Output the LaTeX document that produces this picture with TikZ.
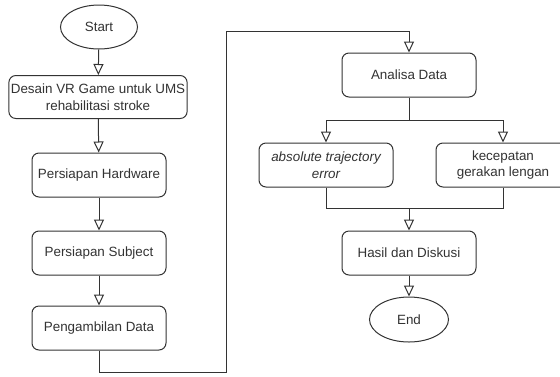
\documentclass[tikz,border=0pt]{standalone}
\usepackage{fontspec}
\setmainfont{Liberation Sans}
\usetikzlibrary{arrows.meta,shapes.geometric}
\definecolor{ink}{HTML}{333333}
\tikzset{
  proc/.style={draw=ink, line width=1pt, rounded corners=7pt, fill=white,
    minimum width=134pt, minimum height=44pt, inner sep=2pt, align=center,
    text=ink, font=\fontsize{13.4}{16.5}\selectfont},
  term/.style={draw=ink, line width=1pt, ellipse, fill=white, inner sep=0pt,
    text=ink, font=\fontsize{13.4}{16.5}\selectfont},
  link/.style={draw=ink, line width=1pt},
  flow/.style={link, -{Triangle[width=10pt, length=11pt, fill=white, line width=1pt]}}
}
\begin{document}
\begin{tikzpicture}[x=1pt, y=-1pt]
\useasboundingbox (0,0) rectangle (560,376);
\clip (0,0) rectangle (560,376);
\fill[white] (0,0) rectangle (560,376);

% left column
\node[term, minimum width=77pt, minimum height=44pt] (start) at (99,27) {Start};
\node[proc, minimum width=174pt, minimum height=43pt] (b1) at (98,97) {Desain VR Game untuk UMS\\rehabilitasi stroke};
\node[proc] (b2) at (99,175) {Persiapan Hardware};
\node[proc] (b3) at (99,253) {Persiapan Subject};
\node[proc] (b4) at (99,328) {Pengambilan Data};

% right column
\node[proc] (ana) at (409,75) {Analisa Data};
\node[proc] (ate) at (326,165) {\itshape absolute trajectory\\\itshape error};
\node[proc] (kec) at (503,165) {kecepatan\\gerakan lengan};
\node[proc] (hasil) at (409,253) {Hasil dan Diskusi};
\node[term, minimum width=79pt, minimum height=45pt] (end) at (409,319.5) {End};

% bends of the long connector
\coordinate (c1) at (99,372);
\coordinate (c2) at (226,372);
\coordinate (c3) at (226,31);
\coordinate (c4) at (409,31);
\coordinate (split) at (409,120);
\coordinate (merge) at (409,208);

\draw[flow] (start) -- (b1);
\draw[flow] (b1) -- (b2);
\draw[flow] (b2) -- (b3);
\draw[flow] (b3) -- (b4);
\draw[flow] (b4.south) -- (c1) -- (c2) -- (c3) -- (c4) -- (ana.north);

\draw[link] (ana.south) -- (split);
\draw[flow] (split) -| (ate.north);
\draw[flow] (split) -| (kec.north);

\draw[link] (ate.south) |- (merge);
\draw[link] (kec.south) |- (merge);
\draw[flow] (merge) -- (hasil.north);
\draw[flow] (hasil) -- (end);
\end{tikzpicture}
\end{document}
